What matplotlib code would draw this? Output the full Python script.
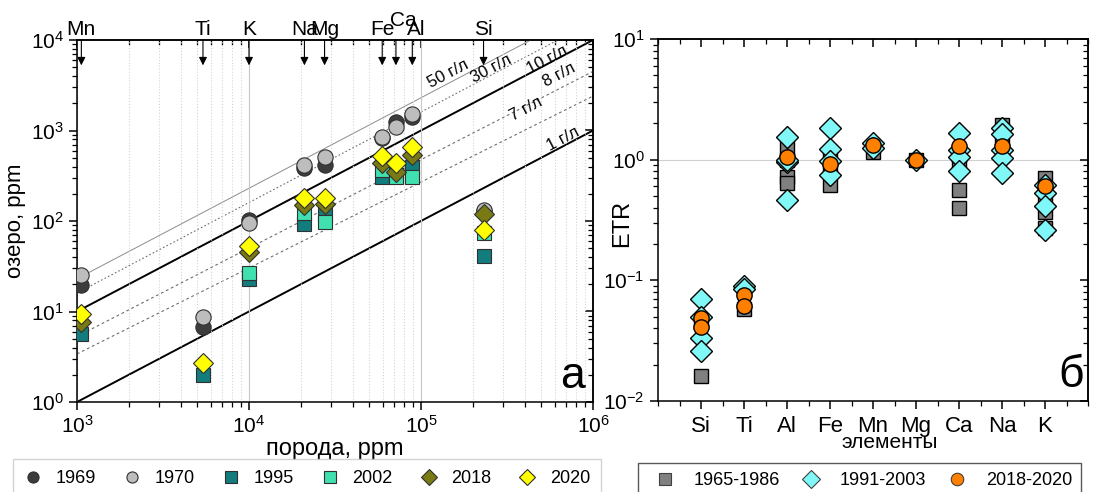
import numpy as np
import matplotlib
matplotlib.use("Agg")
import matplotlib.pyplot as plt
from matplotlib.ticker import NullFormatter, AutoMinorLocator, LogLocator
from matplotlib.lines import Line2D

plt.rcParams['font.family'] = ['Liberation Sans', 'DejaVu Sans']
plt.rcParams['axes.linewidth'] = 1.1

# ---- panel a: lake water vs rock, ppm ----
elements = ['Mn', 'Ti', 'K', 'Na', 'Mg', 'Fe', 'Ca', 'Al', 'Si']
rock = [1060, 5400, 10000, 21000, 27500, 59500, 71500, 89000, 231000]

years = ['1969', '1970', '1995', '2002', '2018', '2020']
lake_1969 = [19.6, 6.8, 102, 390, 416, 830, 1250, 1420, 128]
lake_1970 = [25.3, 8.6, 95, 416, 514, 855, 1100, 1510, 132]
lake_1995 = [5.6, 2.0, 22.9, 92, 116, 309, 320, 398, 41]
lake_2002 = [np.nan, np.nan, 26.4, 122, 98, 366, 309, 309, 73]
lake_2018 = [7.7, np.nan, 45, 150, 153, 434, 351, 536, 119]
lake_2020 = [9.3, 2.7, 53, 178, 181, 527, 440, 662, 79]

# salinity reference lines: value at x=1e3 and at x=1e6
sal_labels = ['50 г/л', '30 г/л', '10 г/л', '8 г/л', '7 г/л', '1 г/л']
sal_at_1e3 = [23, 16, 10, 5.3, 3.4, 1]
sal_at_1e6 = [23000, 16000, 10000, 4500, 2400, 1000]

# ---- panel б: ETR by element ----
etr_elements = ['Si', 'Ti', 'Al', 'Fe', 'Mn', 'Mg', 'Ca', 'Na', 'K']
etr_1965_1986 = [[0.016, 0.045], [0.058], [1.25, 0.72, 0.64, 1.0], [1.05, 0.8, 0.62],
                 [1.16], [1.0], [1.1, 0.9, 0.56, 0.40], [1.95, 1.5, 1.1],
                 [0.70, 0.37, 0.27, 0.5]]
etr_1991_2003 = [[0.07, 0.05, 0.033, 0.026], [0.09, 0.085], [1.55, 0.95, 0.46, 1.0],
                 [1.82, 1.22, 0.98, 0.75], [1.38, 1.25], [1.0], [1.67, 1.2, 1.06, 0.8],
                 [1.84, 1.63, 1.2, 1.03, 0.78], [0.62, 0.53, 0.41, 0.26]]
etr_2018_2020 = [[0.049, 0.041], [0.0754, 0.061], [1.06], [0.92], [1.32], [1.0],
                 [1.3], [1.3], [0.6]]

W, H = 1094, 492
fig = plt.figure(figsize=(W / 100, H / 100), dpi=100)
ax1 = fig.add_axes([77 / W, 1 - 402 / H, 516 / W, 362 / H])
ax2 = fig.add_axes([658 / W, 1 - 401 / H, 430 / W, 362 / H])


def mirror_ticks(ax, sx, sy):
    # Origin style: ticks out on bottom/left, in on top/right
    ax.tick_params(which='major', direction='out', length=6, width=1.1,
                   labelsize=15)
    ax.tick_params(which='minor', direction='out', length=3.5, width=0.9)
    for sec, axis in ((sx, sx.xaxis), (sy, sy.yaxis)):
        sec.tick_params(which='major', direction='in', length=6, width=1.1)
        sec.tick_params(which='minor', direction='in', length=3.5, width=0.9)
        axis.set_major_formatter(NullFormatter())
        axis.set_minor_formatter(NullFormatter())


# ----- panel a -----
ax1.set_xscale('log')
ax1.set_yscale('log')
ax1.set_xlim(1e3, 1e6)
ax1.set_ylim(1, 1e4)

ax1.grid(axis='x', which='major', color='#c8c8c8', lw=0.8)
ax1.grid(axis='x', which='minor', color='#d4d4d4', ls=':', lw=0.8)

line_styles = [dict(color='#8c8c8c', lw=0.7, ls='-'),
               dict(color='#6e6e6e', lw=0.8, ls=(0, (1.5, 2))),
               dict(color='black', lw=1.4, ls='-'),
               dict(color='#6e6e6e', lw=0.8, ls=(0, (2.5, 2.5))),
               dict(color='#6e6e6e', lw=0.8, ls=(0, (2.5, 2.5))),
               dict(color='black', lw=1.4, ls='-')]
for a, b, st in zip(sal_at_1e3, sal_at_1e6, line_styles):
    ax1.plot([1e3, 1e6], [a, b], zorder=1, **st)

# rotated labels of the lines
ang = np.degrees(np.arctan((362 / 4) / (516 / 3)))
label_pos = [(1.45e5, 4200), (2.55e5, 4800), (5.4e5, 6100), (6.4e5, 4100),
             (4.1e5, 1750), (6.7e5, 800)]
for txt, (lx, ly) in zip(sal_labels, label_pos):
    ax1.text(lx, ly, txt, fontsize=12, rotation=ang, ha='center', va='center',
             rotation_mode='anchor', zorder=2)

series_a = [lake_1969, lake_1970, lake_1995, lake_2002, lake_2018, lake_2020]
mk_a = ['o', 'o', 's', 's', 'D', 'D']
col_a = ['#3c3c3c', '#bdbdbd', '#137c7c', '#40e0b0', '#7a7a14', '#ffff00']
ms_a = [11, 11, 10, 10, 10, 10]
handles_a = []
for yr, vals, m, c, s in zip(years, series_a, mk_a, col_a, ms_a):
    ax1.plot(rock, vals, ls='none', marker=m, ms=s, mfc=c, mec='#303030',
             mew=0.8, zorder=3)
    handles_a.append(Line2D([], [], ls='none', marker=m, ms=8, mfc=c,
                            mec='#303030', mew=0.8, label=yr))

# element names and arrows above the panel
name_dx = {'Ca': 5, 'Al': 3}
name_dy = {'Ca': 6}
for el, x in zip(elements, rock):
    ax1.annotate('', xy=(x, 0.93), xytext=(x, 1.0),
                 xycoords=('data', 'axes fraction'),
                 arrowprops=dict(arrowstyle='-|>', color='black', lw=0.8,
                                 mutation_scale=12, shrinkA=0, shrinkB=0))
    ax1.annotate(el, xy=(x, 1.0), xycoords=('data', 'axes fraction'),
                 xytext=(name_dx.get(el, 0), 1 + name_dy.get(el, 0)),
                 textcoords='offset points', ha='center', va='bottom',
                 fontsize=15)

ax1.yaxis.set_minor_locator(LogLocator(base=10, subs=np.arange(2, 10)))
mirror_ticks(ax1, ax1.secondary_xaxis('top'), ax1.secondary_yaxis('right'))

ax1.set_xlabel('порода, ppm', fontsize=17, labelpad=1)
ax1.set_ylabel('озеро, ppm', fontsize=16)
ax1.yaxis.set_label_coords(-0.098, 0.5)
ax1.text(0.985, 0.015, 'а', transform=ax1.transAxes, fontsize=32,
         ha='right', va='bottom')

fig.legend(handles=handles_a, loc='upper left', bbox_to_anchor=(13 / W, 1 - 459 / H),
           ncol=6, fontsize=13, frameon=True, fancybox=False,
           edgecolor='#c8c8c8', handlelength=1.0, handletextpad=0.75,
           columnspacing=1.5, borderpad=0.6, borderaxespad=0)

# ----- panel б -----
ax2.set_yscale('log')
ax2.set_xlim(0, 10)
ax2.set_ylim(1e-2, 1e1)
ax2.axhline(1, color='#d0d0d0', lw=0.8, zorder=0)

pos = np.arange(1, len(etr_elements) + 1)
groups = [('1965-1986', etr_1965_1986, 's', '#808080', 10),
          ('1991-2003', etr_1991_2003, 'D', '#80f8f8', 11),
          ('2018-2020', etr_2018_2020, 'o', '#ff8000', 11)]
handles_b = []
for name, data, m, c, s in groups:
    xs = np.concatenate([[p] * len(v) for p, v in zip(pos, data)])
    ys = np.concatenate(data)
    ax2.plot(xs, ys, ls='none', marker=m, ms=s, mfc=c, mec='black', mew=1.0,
             zorder=3)
    handles_b.append(Line2D([], [], ls='none', marker=m, ms=9, mfc=c,
                            mec='#404040', mew=0.8, label=name))

ax2.set_xticks(pos)
ax2.set_xticklabels(etr_elements)
ax2.xaxis.set_minor_locator(AutoMinorLocator(2))
ax2.yaxis.set_minor_locator(LogLocator(base=10, subs=np.arange(2, 10)))
sx = ax2.secondary_xaxis('top')
sx.set_xticks(pos)
sx.xaxis.set_minor_locator(AutoMinorLocator(2))
mirror_ticks(ax2, sx, ax2.secondary_yaxis('right'))
ax2.tick_params(axis='x', which='major', labelsize=16, pad=5)

ax2.set_xlabel('элементы', fontsize=15)
ax2.xaxis.set_label_coords(0.54, -0.088)
ax2.set_ylabel('ETR', fontsize=17)
ax2.yaxis.set_label_coords(-0.058, 0.49)
ax2.text(0.99, 0.015, 'б', transform=ax2.transAxes, fontsize=32,
         ha='right', va='bottom')

fig.legend(handles=handles_b, loc='upper left', bbox_to_anchor=(638 / W, 1 - 463 / H),
           ncol=3, fontsize=13, frameon=True, fancybox=False,
           edgecolor='#303030', handlelength=2.0, handletextpad=0.6,
           columnspacing=0.7, borderpad=0.5, borderaxespad=0)

fig.savefig('out.png', dpi=100)
